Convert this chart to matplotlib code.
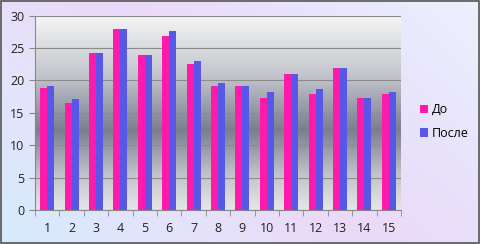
import numpy as np
import matplotlib.pyplot as plt
from matplotlib.colors import LinearSegmentedColormap

# Chart data
categories = [str(i) for i in range(1, 16)]
before = [18.8, 16.5, 24.2, 28.0, 24.0, 26.8, 22.6, 19.1, 19.2, 17.3, 21.0, 17.9, 21.9, 17.3, 17.9]
after = [19.2, 17.2, 24.2, 28.0, 24.0, 27.7, 23.0, 19.6, 19.2, 18.2, 21.0, 18.7, 21.9, 17.3, 18.2]
series_names = ['До', 'После']

pink = '#ff1aab'
blue = '#5858e8'

plt.rcParams['font.family'] = ['Open Sans', 'DejaVu Sans']

fig = plt.figure(figsize=(4.81, 2.44), dpi=100)

# Figure background gradient (light blue -> lavender)
bg = fig.add_axes([0, 0, 1, 1])
bg_cmap = LinearSegmentedColormap.from_list(
    'bg', ['#d6ebfc', '#e4e4fb', '#ebd9f8', '#e8e4fb', '#eef0fe'])
gx, gy = np.meshgrid(np.linspace(0, 1, 200), np.linspace(0, 1, 100))
bg.imshow(0.65 * gx + 0.35 * gy, cmap=bg_cmap, aspect='auto',
          extent=[0, 1, 0, 1], origin='lower')
bg.set_axis_off()
fig.patches.append(plt.Rectangle((0.002, 0.004), 0.994, 0.99, transform=fig.transFigure,
                                 fill=False, edgecolor='#555555', linewidth=1.2))

ax = fig.add_axes([35 / 481, 1 - 210 / 244, 366 / 481, 194.3 / 244])

# Plot area vertical gradient (white top, dark grey middle, light bottom)
pa_cmap = LinearSegmentedColormap.from_list(
    'pa', [(0.0, '#e6e6e6'), (0.18, '#c2c4ca'), (0.41, '#7a7e8e'),
           (0.68, '#c0c3ca'), (1.0, '#f6f6f6')])
ax.imshow(np.linspace(0, 1, 256).reshape(-1, 1), cmap=pa_cmap, aspect='auto',
          extent=[-0.5, 14.5, 0, 30], origin='lower', zorder=0)

x = np.arange(len(categories))
w = 0.29
ax.bar(x - w / 2, before, w, color=pink, label=series_names[0], zorder=3)
ax.bar(x + w / 2, after, w, color=blue, label=series_names[1], zorder=3)

ax.set_xlim(-0.5, 14.5)
ax.set_ylim(0, 30)
ax.set_yticks(range(0, 31, 5))
ax.yaxis.grid(True, color='#8c8c8c', linewidth=0.8, zorder=1)
ax.set_axisbelow(False)

ax.set_xticks(x)
ax.set_xticklabels(categories)
ax.set_xticks(np.arange(-0.5, 15, 1), minor=True)
ax.tick_params(axis='x', which='major', length=0, pad=9, labelsize=9, colors='#222222')
ax.tick_params(axis='x', which='minor', length=4, color='#888888')
ax.tick_params(axis='y', length=4, color='#888888', labelsize=9, labelcolor='#222222')

for s in ['top', 'right']:
    ax.spines[s].set_visible(False)
for s in ['left', 'bottom']:
    ax.spines[s].set_color('#888888')

ax.legend(loc='center left', bbox_to_anchor=(1.02, 0.455), frameon=False,
          handlelength=0.7, handleheight=0.7, handletextpad=0.3,
          labelspacing=0.85, fontsize=9)

fig.savefig('out.png', dpi=100)
